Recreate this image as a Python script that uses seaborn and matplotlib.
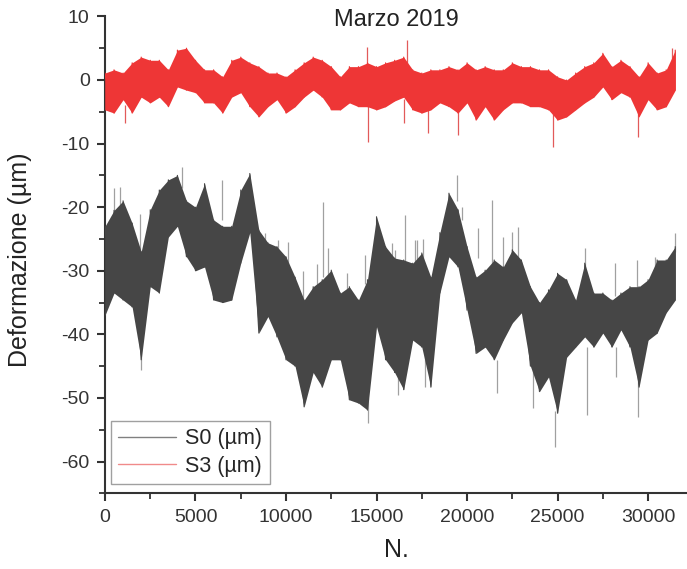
import numpy as np
import pandas as pd
import matplotlib
matplotlib.use("Agg")
import matplotlib.pyplot as plt
from matplotlib.lines import Line2D
from matplotlib.ticker import MultipleLocator
import seaborn as sns

# sample index of each reading (one reading every 500 samples)
n_pos = np.arange(0, 32000, 500)

# S0: lower / upper edge of the dense band
s0_hi = [-23, -20.5, -19, -22.5, -27, -20.4, -17.3, -15.7, -15, -19,
         -20, -16.3, -22, -23, -23, -17.3, -14.7, -23.6, -25.6, -26.2,
         -27.8, -31, -34.6, -32.5, -31.4, -29.9, -33.5, -32.5, -34.6, -31.4,
         -21.5, -26.2, -28, -28.3, -28.8, -27.2, -31, -24, -17.8, -20.4,
         -26.2, -31, -29.9, -28.3, -29.4, -26.7, -28.3, -32.5, -35, -33,
         -30.4, -31.4, -34.6, -28.8, -33.5, -33.5, -34.6, -33.5, -32.5, -32.5,
         -31.4, -28.3, -28.3, -26.2]
s0_lo = [-37, -33.5, -34.6, -35.7, -44, -32.5, -33.5, -24.7, -23, -27.8,
         -30, -29.4, -34.6, -35, -34.6, -28.8, -24, -39.8, -37.2, -40.4,
         -44, -45, -51.4, -46, -48.3, -44, -44, -50.3, -50.8, -51.9,
         -38.8, -44, -46, -48.7, -40.9, -42, -48.3, -33.5, -27.8, -29.4,
         -36.2, -43, -42, -44, -40.9, -38.2, -36.6, -45, -49, -46.7,
         -52.4, -43.6, -42, -40.4, -42, -39.8, -42, -39.3, -42, -48.3,
         -40.9, -39.8, -36.6, -34.6]

# S3: lower / upper edge of the band
s3_hi = [1.1, 1.6, 1.1, 2.7, 3.6, 3.1, 3.1, 1.6, 4.7, 5.0,
         3.1, 1.6, 1.6, 0.5, 3.1, 3.6, 2.7, 2.1, 1.1, 1.1,
         0.5, 1.6, 2.7, 3.6, 3.1, 2.1, 0.5, 2.1, 2.1, 2.7,
         2.1, 2.7, 3.1, 3.6, 1.6, 1.1, 1.6, 1.6, 2.1, 1.6,
         2.7, 1.6, 2.1, 1.6, 1.6, 2.7, 2.1, 2.1, 1.6, 1.6,
         0.5, 0.0, 1.1, 2.1, 2.7, 4.2, 2.1, 3.1, 2.1, 0.5,
         2.7, 1.1, 1.6, 4.7]
s3_lo = [-4.7, -5.2, -3.1, -5.2, -2.7, -3.6, -2.7, -4.2, -1.1, -1.6,
         -2.0, -3.6, -3.6, -5.2, -2.7, -2.0, -4.2, -5.8, -4.2, -3.1,
         -5.2, -4.2, -2.7, -1.6, -2.7, -4.7, -4.7, -3.6, -4.2, -4.2,
         -4.7, -4.2, -3.3, -2.7, -4.7, -5.2, -4.7, -3.6, -4.2, -5.2,
         -3.6, -6.3, -4.2, -6.3, -4.7, -3.6, -3.6, -4.2, -4.2, -4.7,
         -6.3, -5.8, -4.7, -3.6, -2.7, -1.1, -3.1, -2.0, -2.7, -5.8,
         -3.1, -4.7, -4.2, -1.6]

# isolated spikes: position, base, tip
s0_spike_x = [500, 830, 1930, 2000, 4250, 6450, 8840, 9550, 10110, 10940,
              11710, 12050, 12300, 13370, 14360, 14530, 15850, 16020, 16190, 16570,
              17130, 17240, 17570, 17680, 19450, 19720, 20600, 21380, 21660, 22000,
              22500, 22800, 23650, 24860, 26520, 26630, 28180, 28230, 29400, 29450,
              30390, 31500]
s0_spike_base = [-21, -21, -28, -42, -17, -22, -27, -28, -29, -35,
                 -33, -31, -31, -34, -32, -50, -30, -30, -45, -29,
                 -29, -30, -29, -42, -19, -22, -28, -29, -44, -31,
                 -29, -28, -45, -52, -31, -42, -34, -42, -33, -47,
                 -31, -27]
s0_spike_tip = [-17, -16.8, -21, -45.6, -13.7, -15.7, -24, -25.2, -25.5, -30,
                -29, -19.2, -26.4, -30.4, -27.5, -54, -25.6, -26.7, -49.5, -21.2,
                -25.2, -25.2, -25, -48.3, -14.9, -20, -23.3, -18.9, -49.2, -24.7,
                -23.9, -23.1, -51.6, -57.7, -26.4, -52.7, -28.8, -46.7, -28.3, -53,
                -27.8, -24]

s3_spike_x = [1100, 14470, 14530, 16500, 16680, 17850, 19500, 24750, 29450, 31300]
s3_spike_base = [-4, 2, -4, -3, 2, -4, -4, -5, -5, 3]
s3_spike_tip = [-6.8, 5.2, -9.7, -6.8, 6.3, -8.3, -8.6, -10.5, -8.9, 5.0]

labels = ["S0 (\u00b5m)", "S3 (\u00b5m)"]
c_s0 = "#464646"
c_s3 = "#ee3636"

sns.set_style("ticks")
plt.rcParams['font.family'] = ['Liberation Sans', 'DejaVu Sans']
plt.rcParams['axes.unicode_minus'] = False

fig = plt.figure(figsize=(6.87, 5.69), dpi=100)
ax = fig.add_axes([0.1528, 0.1329, 0.8472, 0.8383])


def zigzag(lo, hi):
    xs = np.repeat(n_pos, 2)
    ys = np.ravel(np.column_stack([lo, hi]))
    return pd.DataFrame({"N": xs, "val": ys})


for lo, hi, col, sx, sb, st, soft in [
        (s0_lo, s0_hi, c_s0, s0_spike_x, s0_spike_base, s0_spike_tip, "#a0a0a0"),
        (s3_lo, s3_hi, c_s3, s3_spike_x, s3_spike_base, s3_spike_tip, "#e25a5a")]:
    ax.vlines(sx, sb, st, color=soft, lw=0.9, zorder=2)
    ax.fill_between(n_pos, lo, hi, color=col, lw=0, zorder=3)
    sns.lineplot(data=zigzag(lo, hi), x="N", y="val", sort=False, estimator=None,
                 color=col, lw=0.8, ax=ax, zorder=3)

ax.set_xlim(0, 32150)
ax.set_ylim(-65, 10)
ax.xaxis.set_major_locator(MultipleLocator(5000))
ax.xaxis.set_minor_locator(MultipleLocator(2500))
ax.yaxis.set_major_locator(MultipleLocator(10))
ax.yaxis.set_minor_locator(MultipleLocator(5))

for side in ["top", "right"]:
    ax.spines[side].set_visible(False)
for side in ["left", "bottom"]:
    ax.spines[side].set_linewidth(1.5)
    ax.spines[side].set_color("#333333")
ax.tick_params(which="major", direction="out", length=6, width=1.5,
               colors="#333333", labelsize=14, pad=5)
ax.tick_params(which="minor", direction="out", length=4, width=1.3, colors="#333333")

ax.set_xlabel("N.", fontsize=18, color="#222222")
ax.set_ylabel("Deformazione (\u00b5m)", fontsize=18, color="#222222")
ax.xaxis.set_label_coords(0.5, -0.094)
ax.yaxis.set_label_coords(-0.125, 0.49)

ax.text(0.5, 0.9925, "Marzo 2019", transform=ax.transAxes, ha="center",
        va="center", fontsize=17, color="#222222")

handles = [Line2D([], [], color="#808080", lw=1.0),
           Line2D([], [], color="#f08a8a", lw=1.0)]
leg = ax.legend(handles, labels, loc="lower left", bbox_to_anchor=(0.01, 0.019),
                fontsize=15.5, fancybox=False, frameon=True, handlelength=2.7,
                borderpad=0.35, labelspacing=0.3, handletextpad=0.4,
                borderaxespad=0)
leg.get_frame().set_edgecolor("#888888")
leg.get_frame().set_linewidth(1.0)

fig.savefig("out.png", dpi=100)
